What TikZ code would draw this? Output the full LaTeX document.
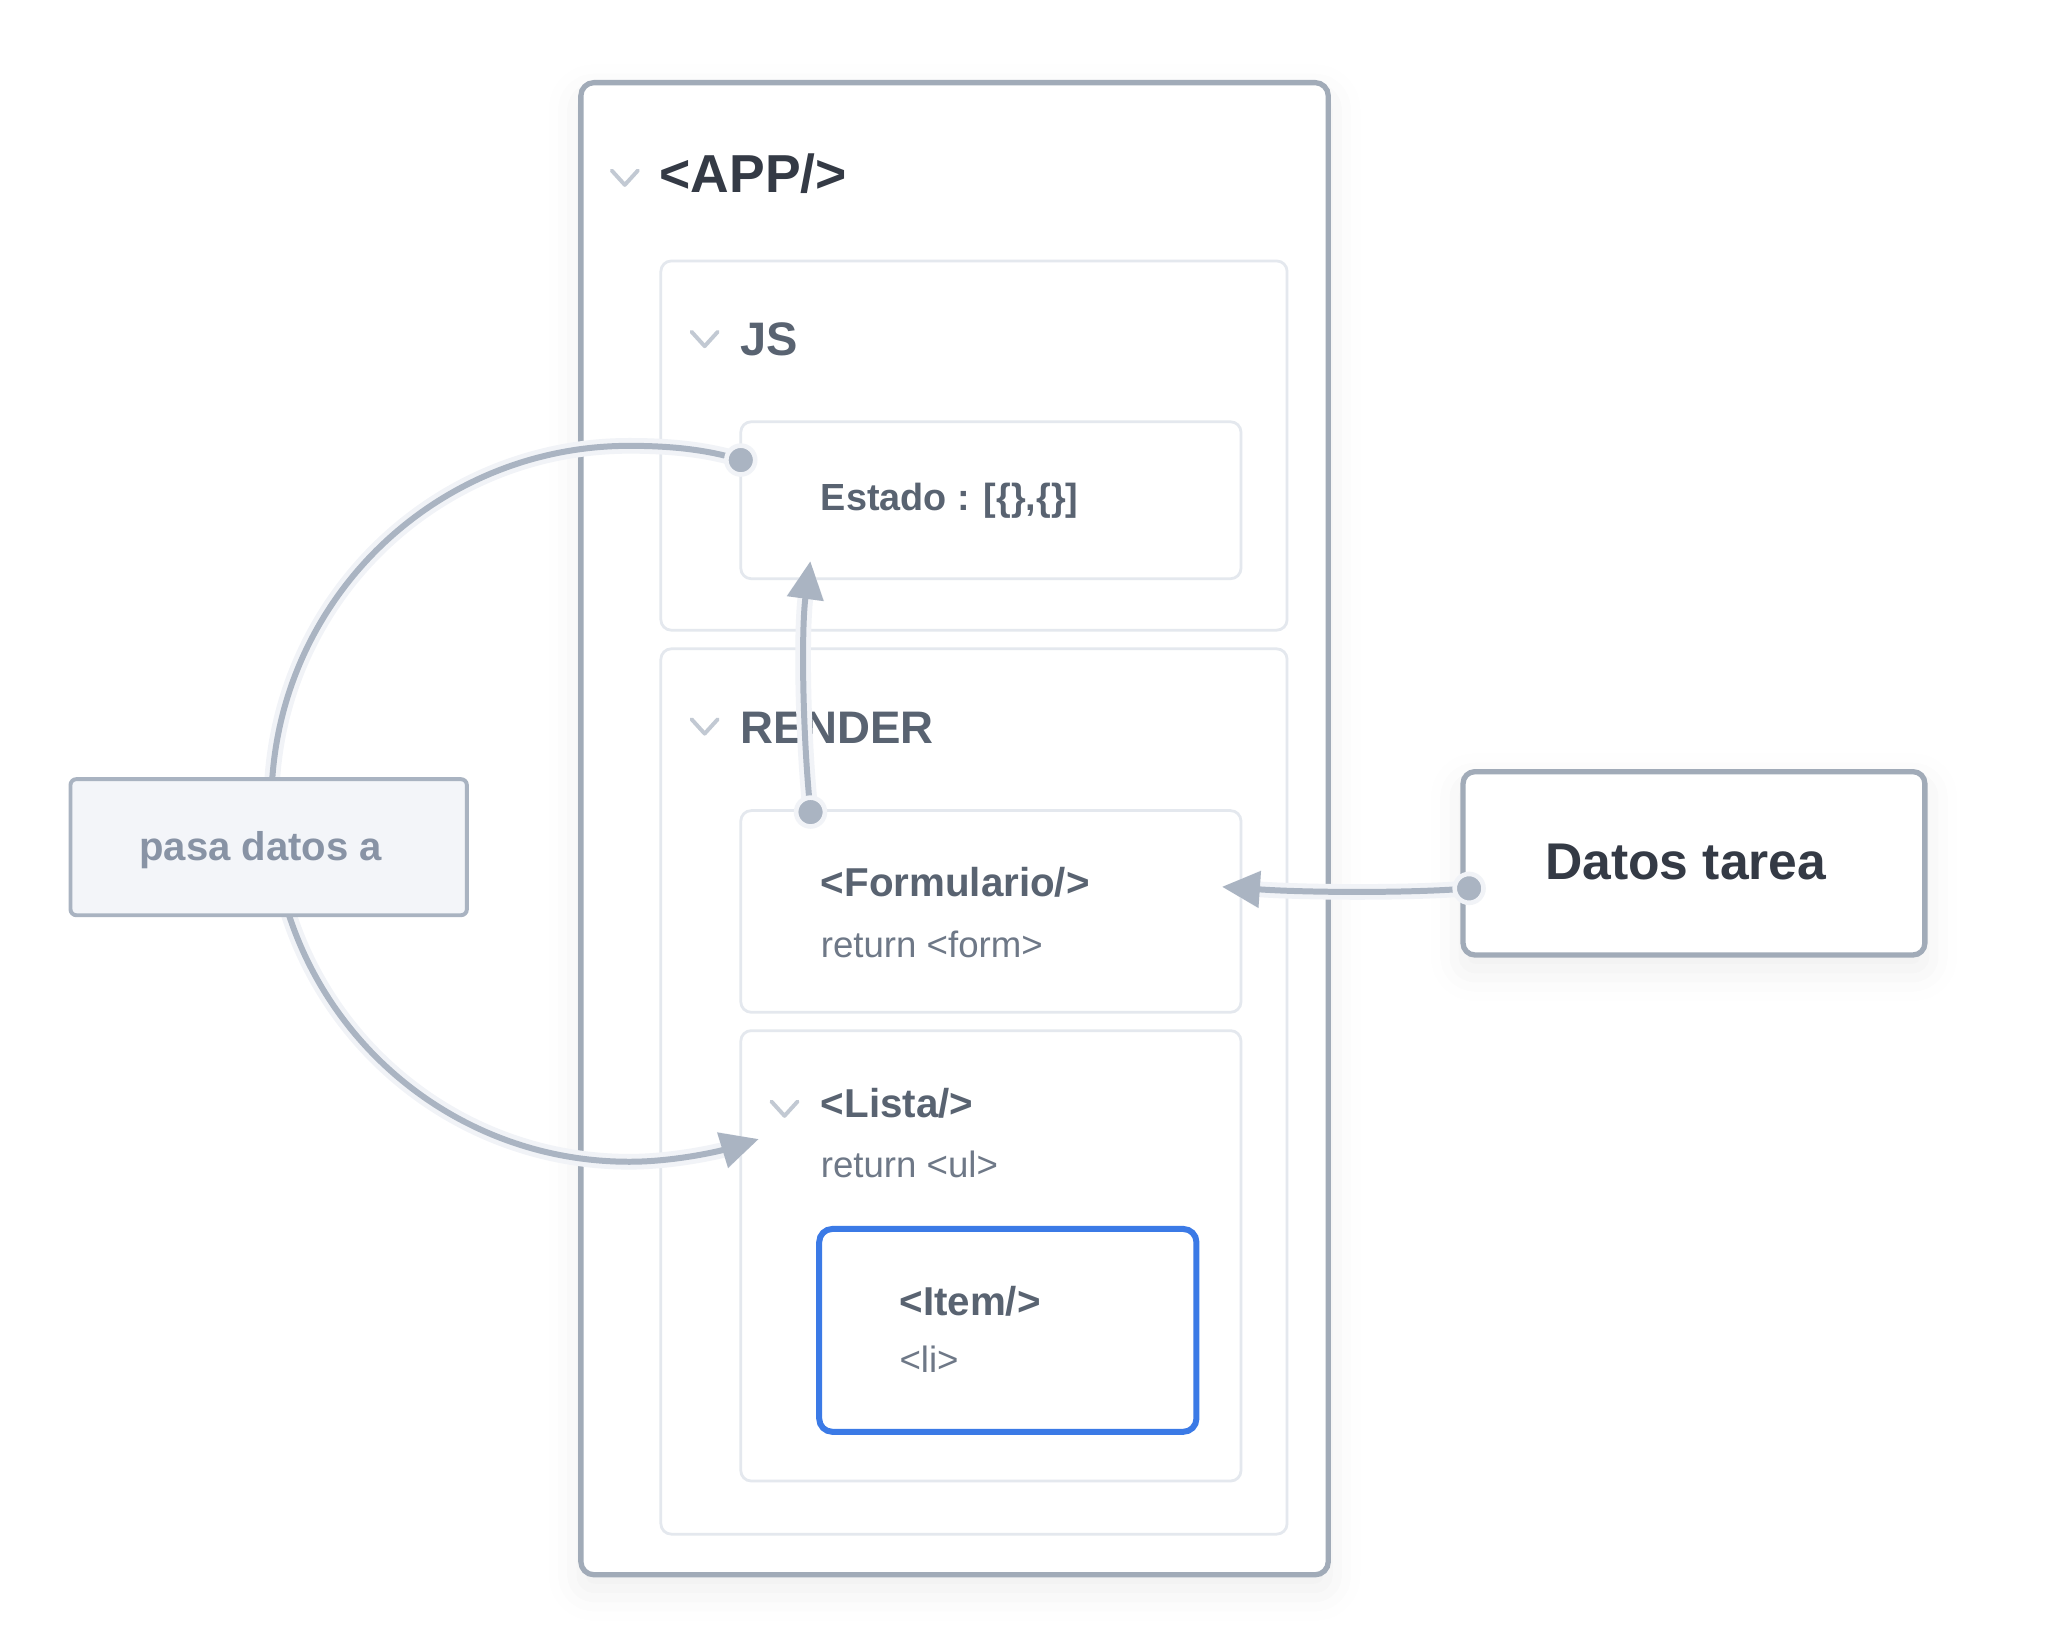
\documentclass[tikz,border=0pt]{standalone}
\usepackage{fontspec}
\setmainfont{Liberation Sans}
\usetikzlibrary{arrows.meta,shadows.blur,calc}
\definecolor{appc}{HTML}{A1ABB8}
\definecolor{lightc}{HTML}{E4E8EE}
\definecolor{bluec}{HTML}{3B7AE6}
\definecolor{darkt}{HTML}{343A45}
\definecolor{midt}{HTML}{596371}
\definecolor{subt}{HTML}{6E7887}
\definecolor{pasaf}{HTML}{F3F5F9}
\definecolor{pasad}{HTML}{A9B3C1}
\definecolor{pasat}{HTML}{8893A5}
\definecolor{conc}{HTML}{AAB4C2}
\definecolor{haloc}{HTML}{F1F3F7}
\definecolor{chevc}{HTML}{C2C9D3}
\begin{document}
\begin{tikzpicture}[x=0.1mm,y=-0.1mm,
  box/.style={rectangle, inner sep=0pt, outer sep=0pt, anchor=center},
  shad/.style={blur shadow={shadow xshift=0pt, shadow yshift=-3pt, shadow blur radius=7pt, shadow opacity=7}},
  appbox/.style={box, draw=appc, line width=1.15pt, rounded corners=1mm, fill=white, shad},
  lightbox/.style={box, draw=lightc, line width=0.6pt, rounded corners=0.8mm, fill=white},
  itembox/.style={box, draw=bluec, line width=1.3pt, rounded corners=1mm, fill=white},
  pasabox/.style={box, draw=pasad, line width=0.85pt, rounded corners=0.45mm, fill=pasaf},
  datosbox/.style={box, draw=appc, line width=1.15pt, rounded corners=0.9mm, fill=white, shad},
  lbl/.style={inner sep=0pt, outer sep=0pt, anchor=base west},
  bigtitle/.style={lbl, text=darkt, font=\fontsize{11.6}{14}\selectfont\bfseries},
  sectitle/.style={lbl, text=midt, font=\fontsize{10.2}{12}\selectfont\bfseries},
  comptitle/.style={lbl, text=midt, font=\fontsize{8.75}{10}\selectfont\bfseries},
  compsub/.style={lbl, text=subt, font=\fontsize{7.95}{10}\selectfont},
  chev/.style={draw=chevc, line width=0.85pt, line cap=round, line join=round},
  halo/.style={draw=haloc, line width=3.4pt, line cap=round},
  conn/.style={draw=conc, line width=1.3pt, line cap=round},
  tipA/.style={-{Triangle[length=8.2pt,width=7.7pt]}},
  dotn/.style={circle, fill=conc, draw=haloc, line width=1pt, minimum size=2.2mm, inner sep=0pt}
]
\useasboundingbox (0,0) rectangle (1568,1249.2);

% containers
\node[appbox, minimum width=57mm, minimum height=113.8mm] (app) at (728,632) {};
\node[lightbox, minimum width=47.76mm, minimum height=28.16mm] (js) at (742.8,339.8) {};
\node[lightbox, minimum width=38.15mm, minimum height=11.97mm] (estado) at (755.7,381.5) {};
\node[lightbox, minimum width=47.76mm, minimum height=67.52mm] (render) at (742.8,832.4) {};
\node[lightbox, minimum width=38.15mm, minimum height=15.38mm] (form) at (755.7,695.1) {};
\node[lightbox, minimum width=38.15mm, minimum height=34.35mm] (lista) at (755.7,957.75) {};
\node[itembox, minimum width=28.77mm, minimum height=15.47mm] (item) at (768.6,1014.6) {};
\node[datosbox, minimum width=35.22mm, minimum height=13.98mm] (datos) at (1291.9,658.4) {};

% chevrons
\draw[chev] (466.5,130) -- (476.5,141) -- (486.5,130);
\draw[chev] (527.4,253) -- (537.4,264) -- (547.4,253);
\draw[chev] (527.4,548.5) -- (537.4,559.5) -- (547.4,548.5);
\draw[chev] (588.3,840) -- (598.3,851) -- (608.3,840);

% texts
\node[bigtitle] (tApp) at (503,147) {<APP/>};
\node[sectitle] (tJs) at (565,271) {JS};
\node[lbl, text=midt, font=\fontsize{8.2}{10}\selectfont\bfseries] (tEstado) at (626,389) {Estado : [\{\},\{\}]};
\node[sectitle, font=\fontsize{9.9}{12}\selectfont\bfseries] (tRender) at (565,567) {RENDER};
\node[comptitle] (tForm) at (626,684) {<Formulario/>};
\node[compsub] (sForm) at (626,730) {return <form>};
\node[comptitle] (tLista) at (626,852) {<Lista/>};
\node[compsub] (sLista) at (626,898) {return <ul>};
\node[comptitle] (tItem) at (686,1003) {<Item/>};
\node[compsub] (sItem) at (686,1047) {<li>};
\node[inner sep=0pt, anchor=base, text=darkt, font=\fontsize{11.2}{13}\selectfont\bfseries] (tDatos) at (1285.6,671) {Datos tarea};

% connector anchors
\coordinate (pEst) at ($(estado.north west)+(0,29.2)$);
\coordinate (pForm) at ($(form.north west)+(53.2,1.1)$);
\coordinate (pDatos) at ($(datos.north west)+(4.6,89)$);
\coordinate (aEst) at (618,428);
\coordinate (aForm) at (932,676.3);
\coordinate (aLista) at (578.6,868.7);

\def\curveA{(pEst) .. controls (540,343) and (512,340) .. (480,340) .. controls (329,340) and (207,462) .. (207,613) .. controls (207,764) and (329,886) .. (480,886) .. controls (515,886) and (550,877.5) .. (aLista)}
\def\curveB{(pForm) .. controls (612,560) and (611,480) .. (aEst)}
\def\curveC{(pDatos) .. controls (1080,681) and (1000,681) .. (aForm)}

\draw[halo, tipA] \curveA;
\draw[halo, tipA] \curveB;
\draw[halo, tipA] \curveC;
\draw[conn, tipA] \curveA;
\draw[conn, tipA] \curveB;
\draw[conn, tipA] \curveC;

% label on the loop
\node[pasabox, minimum width=30.23mm, minimum height=10.38mm] (pasa) at (204.9,646.1) {};
\node[inner sep=0pt, anchor=base, text=pasat, font=\fontsize{8.7}{10}\selectfont\bfseries] (tPasa) at (198.8,656.4) {pasa datos a};

% dots
\node[dotn] (dEst) at (pEst) {};
\node[dotn] (dForm) at (pForm) {};
\node[dotn] (dDatos) at (pDatos) {};
\end{tikzpicture}
\end{document}
